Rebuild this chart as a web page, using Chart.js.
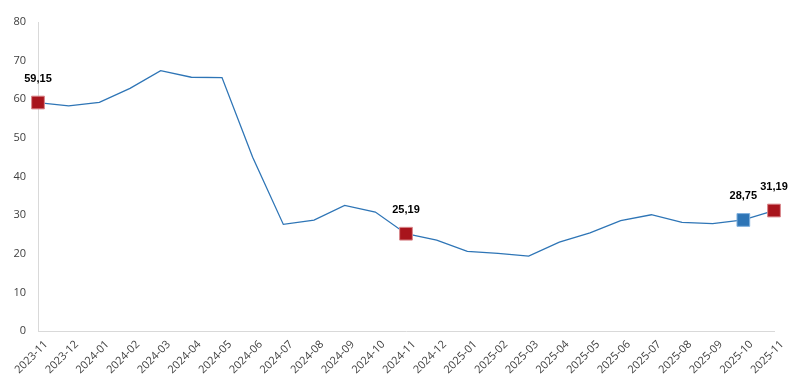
<!DOCTYPE html>
<html>
<head>
<meta charset="utf-8">
<script src="https://cdn.jsdelivr.net/npm/chart.js@4.4.1/dist/chart.umd.min.js"></script>
<style>
html,body{margin:0;padding:0;background:#fff;}
#wrap{width:804px;height:384px;position:relative;}
</style>
</head>
<body>
<div id="wrap"><canvas id="c" width="804" height="384"></canvas></div>
<script>
const categories = ["2023-11","2023-12","2024-01","2024-02","2024-03","2024-04","2024-05","2024-06","2024-07","2024-08","2024-09","2024-10","2024-11","2024-12","2025-01","2025-02","2025-03","2025-04","2025-05","2025-06","2025-07","2025-08","2025-09","2025-10","2025-11"];
const values = [59.15,58.3,59.2,62.8,67.4,65.7,65.6,45.0,27.6,28.7,32.5,30.8,25.19,23.5,20.6,20.1,19.4,23.0,25.4,28.6,30.1,28.1,27.8,28.75,31.19];
const redIdx = [0,12,24];
const blueIdx = [23];
const yTicks = [0,10,20,30,40,50,60,70,80];

const LINE = '#2e75b6';
const RED = '#a8141c';

const ptRadius = values.map((v,i)=> (redIdx.includes(i)||blueIdx.includes(i)) ? 9 : 0);
const ptBg = values.map((v,i)=> redIdx.includes(i) ? RED : (blueIdx.includes(i) ? LINE : LINE));
const ptBorder = values.map((v,i)=> redIdx.includes(i) ? '#d9868a' : (blueIdx.includes(i) ? '#7fb0de' : LINE));

const labelPlugin = {
  id:'valLabels',
  afterDatasetsDraw(chart){
    const ctx = chart.ctx;
    const meta = chart.getDatasetMeta(0);
    ctx.save();
    ctx.font = 'bold 11px "Liberation Sans", Arial, sans-serif';
    ctx.fillStyle = '#000';
    ctx.textAlign = 'center';
    ctx.textBaseline = 'middle';
    [...redIdx, ...blueIdx].forEach(i=>{
      const p = meta.data[i];
      ctx.fillText(values[i].toFixed(2).replace('.',','), p.x, p.y-24);
    });
    ctx.restore();
  }
};

new Chart(document.getElementById('c'), {
  type:'line',
  data:{
    labels:categories,
    datasets:[{
      data:values,
      borderColor:LINE,
      borderWidth:1.3,
      tension:0,
      pointStyle:'rect',
      pointRadius:ptRadius,
      pointHoverRadius:ptRadius,
      pointBackgroundColor:ptBg,
      pointBorderColor:ptBorder,
      pointBorderWidth:1,
      clip:false
    }]
  },
  options:{
    responsive:false,
    animation:false,
    events:[],
    layout:{padding:{top:22,right:30,left:0,bottom:0}},
    plugins:{legend:{display:false},tooltip:{enabled:false}},
    scales:{
      x:{
        offset:false,
        grid:{display:false,drawTicks:false},
        border:{display:true,color:'#d9d9d9',width:1},
        ticks:{
          autoSkip:false,
          maxRotation:45,minRotation:45,
          padding:7,
          labelOffset:8,
          color:'#404040',
          font:{family:'"Open Sans", "Noto Sans", sans-serif',size:11}
        },
        afterFit(s){ s.height = 53; }
      },
      y:{
        min:0,max:80,
        afterBuildTicks(s){ s.ticks = yTicks.map(v=>({value:v})); },
        grid:{display:false,drawTicks:false},
        border:{display:true,color:'#d9d9d9',width:1},
        ticks:{
          padding:12,
          color:'#404040',
          font:{family:'"Open Sans", "Noto Sans", sans-serif',size:11}
        },
        afterFit(s){ s.width = 38; }
      }
    }
  },
  plugins:[labelPlugin]
});
</script>
</body>
</html>
